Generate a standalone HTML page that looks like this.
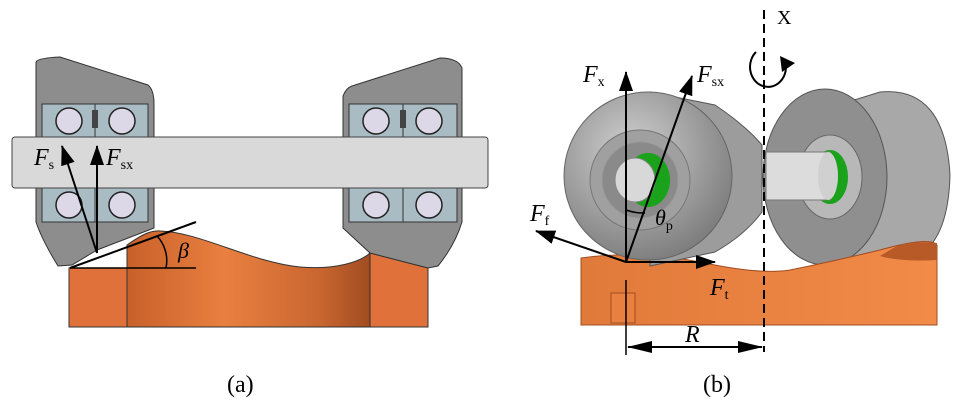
<!DOCTYPE html>
<html><head><meta charset="utf-8"><style>
html,body{margin:0;padding:0;background:#fff;width:958px;height:412px;overflow:hidden}
svg{display:block}
text{font-family:"Liberation Serif",serif;fill:#000}
</style></head><body>
<svg width="958" height="412" viewBox="0 0 958 412" xmlns="http://www.w3.org/2000/svg">
<defs>
<marker id="ah2" viewBox="0 0 20 14" markerWidth="20" markerHeight="14" refX="19" refY="7" orient="auto" markerUnits="userSpaceOnUse"><path d="M0,0 L20,7 L0,14 Z" fill="#000"/></marker>
<linearGradient id="org" x1="0" x2="1"><stop offset="0" stop-color="#c8602a"/><stop offset="0.4" stop-color="#e98040"/><stop offset="0.8" stop-color="#c86530"/><stop offset="1" stop-color="#a04c20"/></linearGradient>
<radialGradient id="whl" cx="0.4" cy="0.35" r="0.7"><stop offset="0" stop-color="#d0d0d0"/><stop offset="1" stop-color="#7a7a7a"/></radialGradient>
<linearGradient id="org2" x1="0" x2="1"><stop offset="0" stop-color="#e07a3a"/><stop offset="1" stop-color="#f28a48"/></linearGradient>
</defs>

<path d="M127,245 C140,236 150,230 160,231 C200,232 250,262 300,267 C335,270 360,262 370,253 L370,327 L127,327 Z" fill="url(#org)" stroke="#333" stroke-width="1"/>
<rect x="69" y="268" width="58" height="59" fill="#e0713a" stroke="#333"/>
<path d="M370,253 L428,268 L428,327 L370,327 Z" fill="#e0713a" stroke="#333"/>

<path d="M36,62 Q38,58 60,57 L148,85 Q154,90 154,104 L154,137 L36,137 Z" fill="#8d8d8d" stroke="#333"/>
<path d="M36,188 L154,188 L154,228 L97,250 L72,265 L58,266 Q42,240 36,222 Z" fill="#8d8d8d" stroke="#333"/>
<rect x="42" y="104" width="106" height="33" fill="#a9bcc4" stroke="#333"/>
<rect x="42" y="188" width="106" height="34" fill="#a9bcc4" stroke="#333"/>
<line x1="95" y1="104" x2="95" y2="137" stroke="#333"/><line x1="95" y1="188" x2="95" y2="222" stroke="#333"/>
<rect x="92" y="110" width="6" height="18" fill="#444"/>
<circle cx="69" cy="121" r="13" fill="#ddd8e8" stroke="#222" stroke-width="1.5"/>
<circle cx="122" cy="121" r="13" fill="#ddd8e8" stroke="#222" stroke-width="1.5"/>
<circle cx="69" cy="205" r="13" fill="#ddd8e8" stroke="#222" stroke-width="1.5"/>
<circle cx="122" cy="205" r="13" fill="#ddd8e8" stroke="#222" stroke-width="1.5"/>

<path d="M343,96 Q346,88 352,86 L440,58 Q458,58 462,68 L462,137 L343,137 Z" fill="#8d8d8d" stroke="#333"/>
<path d="M343,188 L462,188 L462,222 Q455,245 438,266 L428,268 L370,253 L343,228 Z" fill="#8d8d8d" stroke="#333"/>
<rect x="349" y="104" width="108" height="33" fill="#a9bcc4" stroke="#333"/>
<rect x="349" y="188" width="108" height="34" fill="#a9bcc4" stroke="#333"/>
<line x1="403" y1="104" x2="403" y2="137" stroke="#333"/><line x1="403" y1="188" x2="403" y2="222" stroke="#333"/>
<rect x="400" y="110" width="6" height="18" fill="#444"/>
<circle cx="376" cy="121" r="13" fill="#ddd8e8" stroke="#222" stroke-width="1.5"/>
<circle cx="429" cy="121" r="13" fill="#ddd8e8" stroke="#222" stroke-width="1.5"/>
<circle cx="376" cy="205" r="13" fill="#ddd8e8" stroke="#222" stroke-width="1.5"/>
<circle cx="429" cy="205" r="13" fill="#ddd8e8" stroke="#222" stroke-width="1.5"/>

<rect x="12" y="137" width="476" height="51" rx="3" fill="#d9d9d9" stroke="#444"/>

<line x1="70" y1="268" x2="196" y2="222" stroke="#000" stroke-width="2"/>
<line x1="70" y1="268" x2="196" y2="268" stroke="#000" stroke-width="1.5"/>
<path d="M157,236 A36,36 0 0 1 166,268" fill="none" stroke="#000" stroke-width="1.5"/>
<text x="178" y="258" font-size="22" font-style="italic">β</text>
<line x1="97" y1="253" x2="62" y2="146" stroke="#000" stroke-width="2" marker-end="url(#ah2)"/>
<line x1="97" y1="253" x2="97" y2="146" stroke="#000" stroke-width="2" marker-end="url(#ah2)"/>
<text x="34" y="165" font-size="24" font-style="italic">F<tspan font-size="14" font-style="normal" dy="4">s</tspan></text>
<text x="106" y="165" font-size="24" font-style="italic">F<tspan font-size="14" font-style="normal" dy="4">sx</tspan></text>

<path d="M790,120 L880,92 Q945,86 950,175 Q948,255 900,262 L800,250 Z" fill="#a8a8a8" stroke="#555"/>
<ellipse cx="825" cy="177" rx="62" ry="88" fill="#8f8f8f" stroke="#555"/>
<ellipse cx="830" cy="177" rx="32" ry="42" fill="#b8b8b8" stroke="#666"/>
<ellipse cx="830" cy="177" rx="18" ry="27" fill="#1aa21a"/>
<rect x="766" y="152" width="64" height="48" fill="#dcdcdc" stroke="#777"/>
<ellipse cx="828" cy="176" rx="10" ry="24" fill="#d0d0d0"/>

<path d="M581,258 Q640,250 700,262 Q760,275 790,270 Q830,262 880,250 Q930,236 937,245 L937,325 L581,325 Z" fill="url(#org2)" stroke="#a04c20"/>
<path d="M890,250 Q905,240 937,243 L937,260 Q900,262 880,256 Z" fill="#b85a28"/>
<rect x="611" y="293" width="24" height="30" fill="#e98040" stroke="#a04c20"/>

<path d="M650,92 L715,105 Q745,125 762,145 L762,212 Q745,235 715,252 L650,266 Z" fill="#9c9c9c" stroke="#555"/>
<circle cx="648" cy="176" r="84" fill="url(#whl)" stroke="#666"/>
<circle cx="640" cy="180" r="50" fill="#a0a0a0" stroke="#777"/>
<circle cx="640" cy="180" r="38" fill="#8a8a8a" stroke="#999"/>
<ellipse cx="648" cy="180" rx="22" ry="27" fill="#1aa21a"/>
<ellipse cx="635" cy="180" rx="20" ry="22" fill="#d8d8d8" stroke="#888"/>

<line x1="764" y1="10" x2="764" y2="352" stroke="#000" stroke-width="2" stroke-dasharray="9,5"/>
<text x="777" y="24" font-size="20">X</text>
<path d="M756,52 A18,20 0 1 0 786,66" fill="none" stroke="#000" stroke-width="2"/>
<path d="M780,56 L795,63 L782,72 Z" fill="#000"/>

<line x1="626" y1="262" x2="626" y2="72" stroke="#000" stroke-width="2" marker-end="url(#ah2)"/>
<line x1="626" y1="262" x2="692" y2="76" stroke="#000" stroke-width="2" marker-end="url(#ah2)"/>
<line x1="626" y1="262" x2="536" y2="231" stroke="#000" stroke-width="2" marker-end="url(#ah2)"/>
<line x1="626" y1="262" x2="715" y2="262" stroke="#000" stroke-width="2" marker-end="url(#ah2)"/>
<path d="M626,210 A52,52 0 0 0 645,213" fill="none" stroke="#000" stroke-width="1.5"/>
<text x="655" y="225" font-size="22" font-style="italic">θ<tspan font-size="14" font-style="normal" dy="5">p</tspan></text>
<text x="583" y="82" font-size="24" font-style="italic">F<tspan font-size="14" font-style="normal" dy="4">x</tspan></text>
<text x="697" y="82" font-size="24" font-style="italic">F<tspan font-size="14" font-style="normal" dy="4">sx</tspan></text>
<text x="530" y="221" font-size="24" font-style="italic">F<tspan font-size="14" font-style="normal" dy="4">f</tspan></text>
<text x="710" y="295" font-size="24" font-style="italic">F<tspan font-size="14" font-style="normal" dy="4">t</tspan></text>

<line x1="626" y1="280" x2="626" y2="355" stroke="#000" stroke-width="1.5"/>
<line x1="628" y1="347" x2="762" y2="347" stroke="#000" stroke-width="2"/>
<path d="M627,347 L652,341 L652,353 Z" fill="#000"/>
<path d="M763,347 L738,341 L738,353 Z" fill="#000"/>
<text x="685" y="342" font-size="24" font-style="italic">R</text>

<text x="227" y="392" font-size="24">(a)</text>
<text x="703" y="392" font-size="24">(b)</text>
</svg>
</body></html>
